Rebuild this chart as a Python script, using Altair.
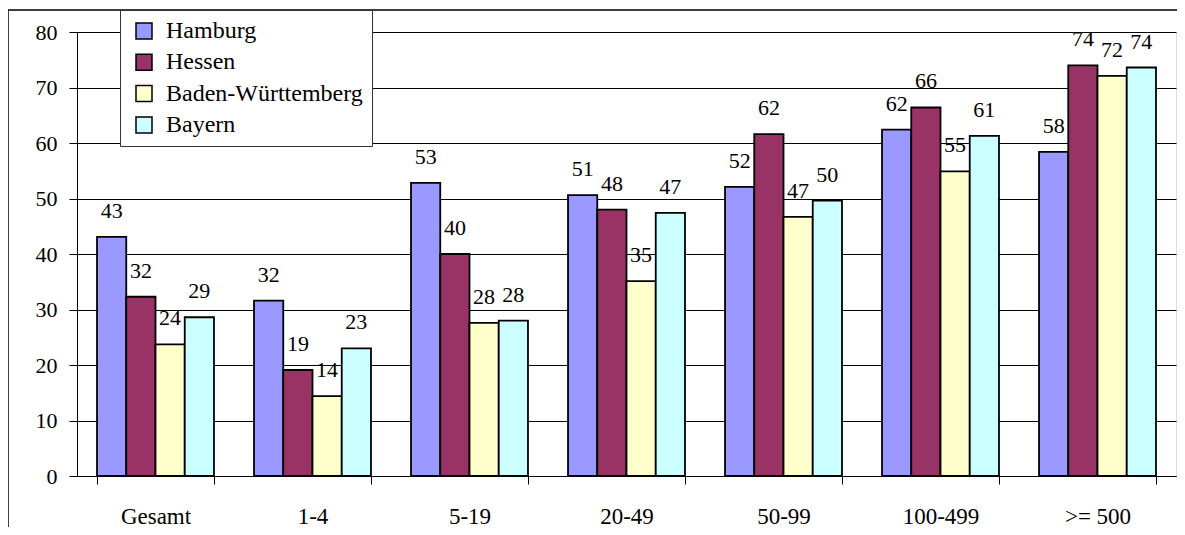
import altair as alt
import pandas as pd

categories = ["Gesamt", "1-4", "5-19", "20-49", "50-99", "100-499", ">= 500"]
series = ["Hamburg", "Hessen", "Baden-Württemberg", "Bayern"]
hamburg = [43.1, 31.6, 52.8, 50.6, 52.1, 62.4, 58.4]
hessen = [32.3, 19.1, 40.0, 48.0, 61.6, 66.4, 74.0]
baden_wuerttemberg = [23.7, 14.4, 27.6, 35.1, 46.7, 54.9, 72.1]
bayern = [28.6, 23.0, 28.0, 47.4, 49.6, 61.3, 73.6]
colors = ["#9999FF", "#993366", "#FFFFCC", "#CCFFFF"]
y_ticks = [0, 10, 20, 30, 40, 50, 60, 70, 80]

rows = []
for s, vals in zip(series, [hamburg, hessen, baden_wuerttemberg, bayern]):
    for c, v in zip(categories, vals):
        rows.append({"Kategorie": c, "Land": s, "Wert": v})
df = pd.DataFrame(rows)

FONT = "Liberation Serif, Times New Roman, Times, serif"
W, H = 1099, 444

x_enc = alt.X(
    "Kategorie:N",
    sort=categories,
    scale=alt.Scale(paddingInner=0.255, paddingOuter=0.1275),
    axis=alt.Axis(
        title=None, labelAngle=0, tickBand="extent", grid=False,
        domainColor="black", tickColor="black", tickSize=8,
        labelFont=FONT, labelFontSize=23, labelColor="black",
        labelBaseline="alphabetic", labelPadding=39,
    ),
)
xo_enc = alt.XOffset("Land:N", sort=series, scale=alt.Scale(paddingInner=0, paddingOuter=0))
y_enc = alt.Y(
    "Wert:Q",
    scale=alt.Scale(domain=[0, 80], nice=False),
    axis=alt.Axis(
        title=None, values=y_ticks, grid=True, gridColor="black", gridWidth=1,
        domainColor="black", tickColor="black", tickSize=8, labelPadding=12,
        labelFont=FONT, labelFontSize=22, labelColor="black",
    ),
)

base = alt.Chart(df)
bars = base.mark_bar(stroke="black", strokeWidth=1.8).encode(
    x=x_enc,
    xOffset=xo_enc,
    y=y_enc,
    color=alt.Color(
        "Land:N",
        sort=series,
        scale=alt.Scale(domain=series, range=colors),
        legend=alt.Legend(
            title=None, orient="none", legendX=43, legendY=-22,
            fillColor="white", strokeColor="#333333", padding=9,
            symbolType="square", symbolSize=256, symbolStrokeColor="black",
            symbolStrokeWidth=1.5, symbolOffset=3, labelOffset=10,
            labelFont=FONT, labelFontSize=24, labelColor="black",
            labelLimit=400, rowPadding=7.3, labelBaseline="middle",
        ),
    ),
)
labels = base.mark_text(
    font=FONT, fontSize=22, color="black", dy=-19, baseline="alphabetic", align="center"
).encode(
    x=x_enc,
    xOffset=xo_enc,
    y=y_enc,
    text=alt.Text("Wert:Q", format=".0f"),
)

frame = alt.Chart(pd.DataFrame({"f": [0]})).mark_rect(
    filled=False, stroke="black", strokeWidth=1.5
).encode(
    x=alt.value(-69), x2=alt.value(1200), y=alt.value(-22), y2=alt.value(560)
)

chart = alt.layer(frame, bars, labels).properties(
    width=W, height=H,
    autosize=alt.AutoSizeParams(type="none"),
    padding={"left": 69, "top": 24, "right": 1, "bottom": 51},
).configure_view(
    stroke="#808080", strokeWidth=1
).configure(background="white", font=FONT)

chart.save("out.html", embed_options={"renderer": "svg", "actions": False})
